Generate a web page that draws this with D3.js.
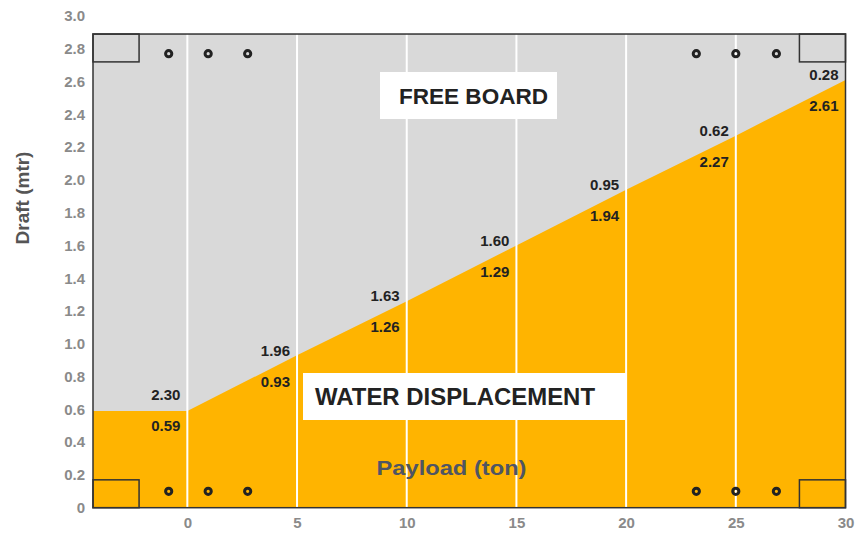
<!DOCTYPE html>
<html>
<head>
<meta charset="utf-8">
<script src="https://cdn.jsdelivr.net/npm/d3@7"></script>
<style>
  body { margin: 0; background: #fff; }
  svg { display: block; font-family: "Liberation Sans", Arial, Helvetica, sans-serif; }
</style>
</head>
<body>
<svg width="861" height="536"></svg>
<script>
// payload (ton) vs draft (mtr)
const payload = [0, 5, 10, 15, 20, 25, 30];
const draft = [0.59, 0.93, 1.26, 1.60, 1.94, 2.27, 2.61];
const freeboardLabels = ["2.30", "1.96", "1.63", "1.60", "0.95", "0.62", "0.28"];
const draftLabels = ["0.59", "0.93", "1.26", "1.29", "1.94", "2.27", "2.61"];
const hullDepth = 2.89;
const xTicks = [0, 5, 10, 15, 20, 25, 30];
const yTicks = [0, 0.2, 0.4, 0.6, 0.8, 1.0, 1.2, 1.4, 1.6, 1.8, 2.0, 2.2, 2.4, 2.6, 2.8, 3.0];
const ringX = [-0.85, 0.95, 2.75, 23.2, 25.0, 26.85];
const ringY = [2.77, 0.1];
const xMin = -4.3, xMax = 30;

window.addEventListener('load', main);

function main() {
    let svg = d3.select("svg");
    const orange = "#ffb400", grey = "#d9d9d9", ink = "#222";

    let x = d3.scaleLinear().domain([xMin, xMax]).range([93, 845.5]);
    let y = d3.scaleLinear().domain([0, 3]).range([507.7, 16]);

    // waterline: flat before 0, then linear
    let bx = [xMin].concat(payload), by = [draft[0]].concat(draft);
    let waterline = d3.scaleLinear().domain(bx).range(by);

    let plot = svg.append("g");
    plot.append("rect")
        .attr("x", x(xMin)).attr("y", y(hullDepth))
        .attr("width", x(xMax) - x(xMin)).attr("height", y(0) - y(hullDepth))
        .attr("fill", grey);

    let area = d3.area()
        .x(function (d, i) { return x(bx[i]); })
        .y0(y(0))
        .y1(function (d) { return y(d); });
    plot.append("path").datum(by)
        .attr("d", area)
        .attr("fill", orange);

    // white gridlines
    plot.selectAll("line.grid").data(xTicks.slice(0, -1)).enter()
        .append("line").attr("class", "grid")
        .attr("x1", function (d) { return x(d); }).attr("x2", function (d) { return x(d); })
        .attr("y1", y(hullDepth)).attr("y2", y(0))
        .attr("stroke", "#fff").attr("stroke-width", 2);

    // corner boxes
    let corners = [[xMin, -2.2, 2.72, hullDepth], [xMin, -2.2, 0, 0.17],
                   [27.9, xMax, 2.72, hullDepth], [27.9, xMax, 0, 0.17]];
    plot.selectAll("rect.corner").data(corners).enter()
        .append("rect").attr("class", "corner")
        .attr("x", function (d) { return x(d[0]); })
        .attr("y", function (d) { return y(d[3]); })
        .attr("width", function (d) { return x(d[1]) - x(d[0]); })
        .attr("height", function (d) { return y(d[2]) - y(d[3]); })
        .attr("fill", "none").attr("stroke", "#333").attr("stroke-width", 1.5);

    // outer frame
    plot.append("rect")
        .attr("x", x(xMin)).attr("y", y(hullDepth))
        .attr("width", x(xMax) - x(xMin)).attr("height", y(0) - y(hullDepth))
        .attr("fill", "none").attr("stroke", "#333").attr("stroke-width", 1.5);

    // rings
    let rings = [];
    ringY.forEach(function (ry) { ringX.forEach(function (rx) { rings.push([rx, ry]); }); });
    plot.selectAll("circle").data(rings).enter()
        .append("circle")
        .attr("cx", function (d) { return x(d[0]); })
        .attr("cy", function (d) { return y(d[1]); })
        .attr("r", 3.1)
        .attr("fill", "none").attr("stroke", ink).attr("stroke-width", 3);

    // value labels
    let labelX = function (d) { return x(d) - 7; };
    let midY = function (d) { return y(waterline(d - 1)); };
    plot.selectAll("text.fb").data(payload).enter()
        .append("text").attr("class", "fb")
        .attr("x", labelX)
        .attr("y", function (d) { return midY(d) - 16; })
        .attr("dy", "0.35em")
        .attr("text-anchor", "end")
        .attr("font-size", 15).attr("font-weight", "bold").attr("fill", ink)
        .text(function (d, i) { return freeboardLabels[i]; });
    plot.selectAll("text.dr").data(payload).enter()
        .append("text").attr("class", "dr")
        .attr("x", labelX)
        .attr("y", function (d) { return midY(d) + 15; })
        .attr("dy", "0.35em")
        .attr("text-anchor", "end")
        .attr("font-size", 15).attr("font-weight", "bold").attr("fill", ink)
        .text(function (d, i) { return draftLabels[i]; });

    // region tags
    function tag(bx0, by0, w, tx, txt, size, len) {
        plot.append("rect")
            .attr("x", bx0).attr("y", by0).attr("width", w).attr("height", 47)
            .attr("fill", "#fff");
        plot.append("text")
            .attr("x", tx).attr("y", by0 + 24).attr("dy", "0.35em")
            .attr("text-anchor", "middle")
            .attr("font-size", size).attr("font-weight", "bold").attr("fill", ink)
            .attr("textLength", len).attr("lengthAdjust", "spacingAndGlyphs")
            .text(txt);
    }
    tag(380, 72, 177, 473.5, "FREE BOARD", 22, 149);
    tag(303, 373, 324, 455, "WATER DISPLACEMENT", 23, 280);

    plot.append("text")
        .attr("x", 451.5).attr("y", 468).attr("dy", "0.35em")
        .attr("text-anchor", "middle")
        .attr("font-size", 20).attr("font-weight", "bold").attr("fill", "#4f5563")
        .attr("textLength", 150).attr("lengthAdjust", "spacingAndGlyphs")
        .text("Payload (ton)");

    // axes
    let xAxis = d3.axisBottom(x).tickValues(xTicks).tickSize(0).tickPadding(10);
    let gx = svg.append("g").attr("transform", "translate(0," + y(0) + ")").call(xAxis);
    let yAxis = d3.axisLeft(y).tickValues(yTicks).tickSize(0).tickPadding(8)
        .tickFormat(function (d) { return d === 0 ? "0" : d3.format(".1f")(d); });
    let gy = svg.append("g").attr("transform", "translate(" + x(xMin) + ",0)").call(yAxis);
    [gx, gy].forEach(function (g) {
        g.select(".domain").remove();
        g.selectAll("text")
            .attr("font-size", 15).attr("font-weight", "bold").attr("fill", "#8a8a8a")
            .attr("font-family", "Liberation Sans, Arial, sans-serif");
    });

    svg.append("text")
        .attr("transform", "translate(22,198) rotate(-90)")
        .attr("dy", "0.35em")
        .attr("text-anchor", "middle")
        .attr("font-size", 19).attr("font-weight", "bold").attr("fill", "#555")
        .text("Draft (mtr)");
}
</script>
</body>
</html>
